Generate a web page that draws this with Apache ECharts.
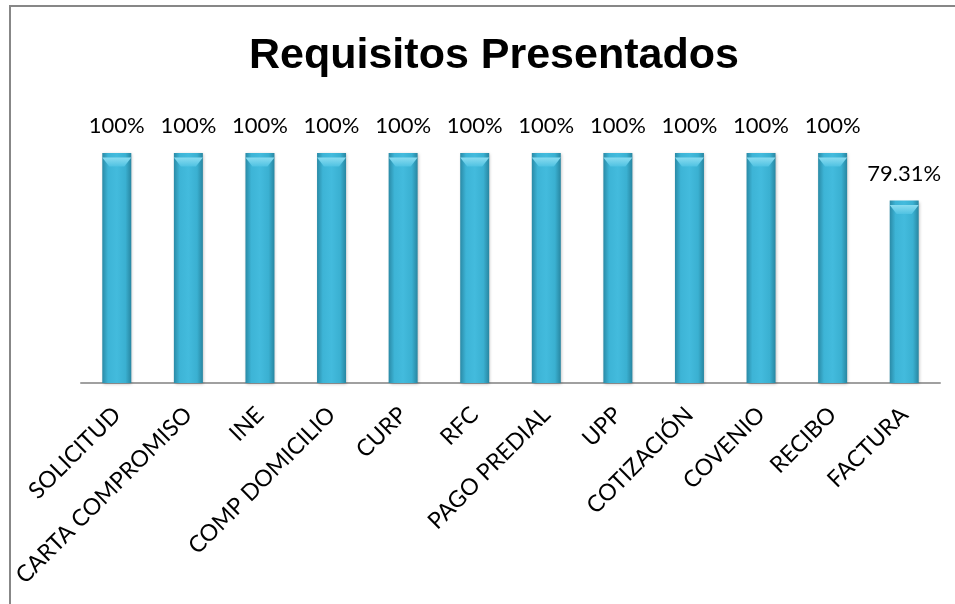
<!DOCTYPE html>
<html>
<head>
<meta charset="utf-8">
<script src="https://cdn.jsdelivr.net/npm/echarts@6/dist/echarts.min.js"></script>
<style>
  html, body { margin: 0; padding: 0; background: #fff; }
  #chart { width: 955px; height: 604px; }
</style>
</head>
<body>
<div id="chart"></div>
<script>
// Requisitos presentados: porcentaje por documento
const categories = ['SOLICITUD', 'CARTA COMPROMISO', 'INE', 'COMP DOMICILIO', 'CURP', 'RFC',
  'PAGO PREDIAL', 'UPP', 'COTIZACIÓN', 'COVENIO', 'RECIBO', 'FACTURA']
const values = [100, 100, 100, 100, 100, 100, 100, 100, 100, 100, 100, 79.31]

const chart = echarts.init(document.getElementById('chart'))

// barra con efecto bisel (aprox. estilo Excel)
const barColor = new echarts.graphic.LinearGradient(0, 0, 1, 0, [
  { offset: 0, color: '#2a8aa6' },
  { offset: 0.2, color: '#3db4d6' },
  { offset: 0.5, color: '#43bbdd' },
  { offset: 0.8, color: '#3ab0d1' },
  { offset: 1, color: '#2886a1' }
])
const capColor = new echarts.graphic.LinearGradient(0, 0, 0, 1, [
  { offset: 0, color: '#8adcf0' },
  { offset: 1, color: '#4fc2e2' }
])

const option = {
  backgroundColor: '#fff',
  title: {
    text: 'Requisitos Presentados',
    left: 244,
    top: 30,
    textStyle: { fontFamily: 'Liberation Sans', fontSize: 43, fontWeight: 'bold', color: '#000' }
  },
  grid: { left: 81, right: 15, top: 153, bottom: 221 },
  xAxis: {
    type: 'category',
    data: categories,
    axisLine: { lineStyle: { color: '#a0a0a0', width: 2 } },
    axisTick: { show: false },
    axisLabel: {
      rotate: 45,
      interval: 0,
      margin: 28,
      color: '#000',
      fontFamily: 'Lato',
      fontSize: 23
    }
  },
  yAxis: {
    type: 'value',
    min: 0,
    max: 100,
    show: false
  },
  series: [
    {
      type: 'bar',
      data: values,
      barWidth: 29,
      itemStyle: {
        color: barColor,
        shadowColor: 'rgba(0,0,0,0.25)',
        shadowBlur: 3,
        shadowOffsetX: 1,
        shadowOffsetY: 1
      },
      label: {
        show: true,
        position: 'top',
        distance: 16,
        color: '#000',
        fontFamily: 'Lato',
        fontSize: 22,
        formatter: (p) => p.value + '%'
      }
    },
    {
      // bisel superior
      type: 'pictorialBar',
      data: values,
      barWidth: 29,
      barGap: '-100%',
      symbol: 'path://M0,0 L29,0 L22,9 L7,9 Z',
      symbolSize: [29, 9],
      symbolPosition: 'end',
      symbolOffset: [0, '50%'],
      itemStyle: { color: capColor },
      silent: true,
      z: 3
    }
  ],
  graphic: [
    {
      type: 'polyline',
      shape: { points: [[10, 604], [10, 6], [955, 6]] },
      style: { stroke: '#878787', lineWidth: 2, fill: null }
    }
  ]
}

chart.setOption(option)
</script>
</body>
</html>
